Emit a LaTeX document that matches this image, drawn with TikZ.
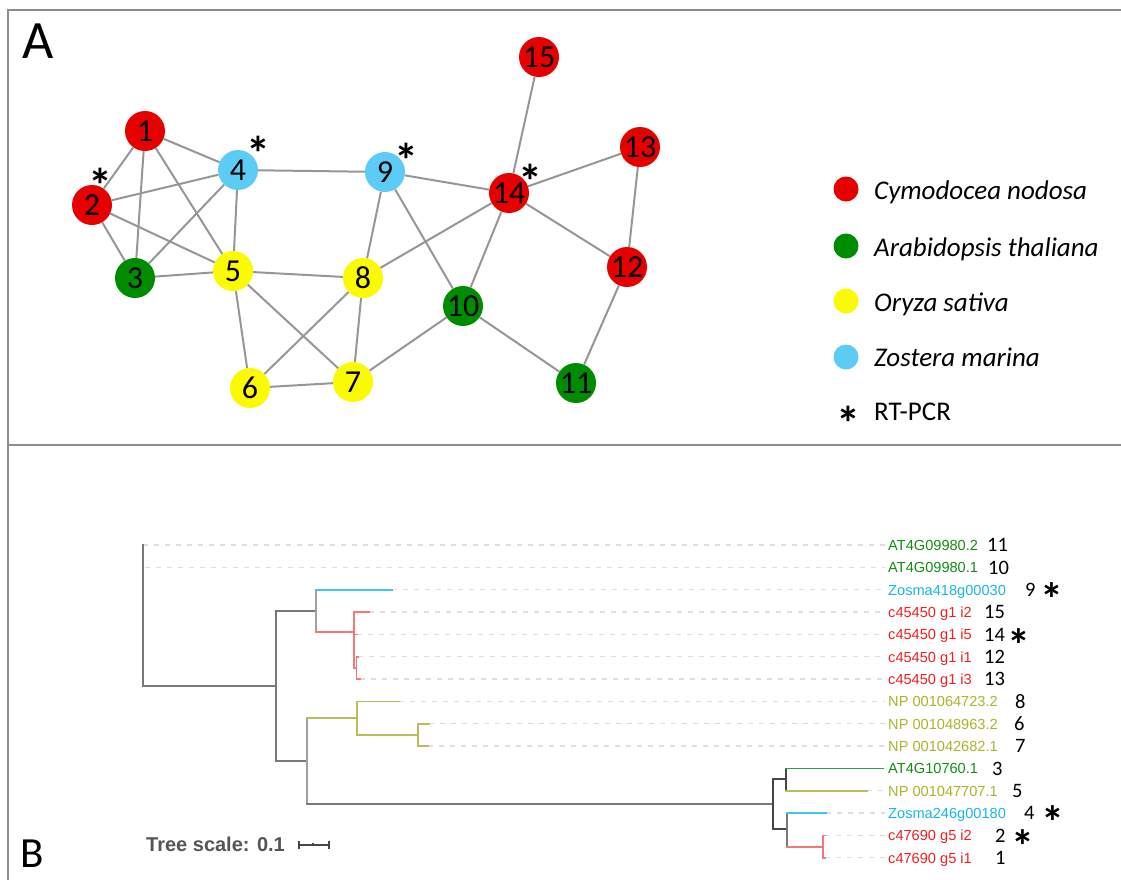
\documentclass[tikz,border=0pt]{standalone}
\usepackage{fontspec}
\setmainfont{Carlito}
\newfontfamily\labfont{Liberation Sans}

% node colours (network)
\definecolor{nred}{RGB}{230,0,0}
\definecolor{ngreen}{RGB}{0,140,0}
\definecolor{nyellow}{RGB}{250,250,0}
\definecolor{nblue}{RGB}{92,204,245}
\definecolor{edgegray}{RGB}{150,150,150}
\definecolor{framegray}{RGB}{140,140,140}
% label colours (tree)
\definecolor{lgreen}{RGB}{20,140,20}
\definecolor{lblue}{RGB}{25,180,230}
\definecolor{lred}{RGB}{240,30,30}
\definecolor{lolive}{RGB}{170,180,40}
% branch colours (tree)
\definecolor{bgreen}{RGB}{40,160,70}
\definecolor{bolive}{RGB}{185,190,90}
\definecolor{bblue}{RGB}{60,200,235}
\definecolor{bred}{RGB}{245,120,120}
\definecolor{bgray}{RGB}{120,120,120}
\definecolor{bdark}{RGB}{70,70,70}
\definecolor{leader}{RGB}{222,222,222}
\definecolor{scalegray}{RGB}{85,85,85}

\begin{document}
\begin{tikzpicture}[x=1pt,y=-1pt,
  vtx/.style={circle,minimum size=40pt,inner sep=0pt,font=\fontsize{32}{32}\selectfont},
  link/.style={draw=edgegray,line width=2pt},
  star/.style={inner sep=0pt,anchor=north,font=\fontsize{48}{48}\selectfont\bfseries},
  tstar/.style={inner sep=0pt,anchor=north,font=\fontsize{46}{46}\selectfont\bfseries},
  legdot/.style={circle,minimum size=25pt,inner sep=0pt},
  legtxt/.style={anchor=base west,inner sep=0pt,font=\fontsize{27}{27}\selectfont\itshape},
  leaf/.style={anchor=base west,inner sep=0pt,font=\labfont\fontsize{14.6}{14.6}\selectfont},
  num/.style={anchor=base west,inner sep=0pt,font=\fontsize{20.5}{20.5}\selectfont},
  br/.style={line width=1.6pt,line cap=rect},
  lead/.style={draw=leader,line width=1.1pt,dash pattern=on 5pt off 6pt},
  panel/.style={anchor=base west,inner sep=0pt}
]
\useasboundingbox (0,0) rectangle (1121,879);

% frame of the two panels
\draw[framegray,line width=2pt] (1130,10) -- (8,10) -- (8,890);
\draw[framegray,line width=2pt] (8,445) -- (1130,445);
\node[panel,font=\fontsize{54}{54}\selectfont] (labA) at (22,58) {A};
\node[panel,font=\fontsize{43}{43}\selectfont] (labB) at (20,867) {B};

% ---------------- network ----------------
\node[vtx,fill=nred]    (n1)  at (145,131) {1};
\node[vtx,fill=nred]    (n2)  at (92,205)  {2};
\node[vtx,fill=ngreen]  (n3)  at (135,278) {3};
\node[vtx,fill=nblue]   (n4)  at (238,170) {4};
\node[vtx,fill=nyellow] (n5)  at (233,271) {5};
\node[vtx,fill=nyellow] (n6)  at (250,388) {6};
\node[vtx,fill=nyellow] (n7)  at (353,382) {7};
\node[vtx,fill=nyellow] (n8)  at (363,278) {8};
\node[vtx,fill=nblue]   (n9)  at (385,172) {9};
\node[vtx,fill=ngreen]  (n10) at (463,306) {10};
\node[vtx,fill=ngreen]  (n11) at (576,383) {11};
\node[vtx,fill=nred]    (n12) at (627,267) {12};
\node[vtx,fill=nred]    (n13) at (640,147) {13};
\node[vtx,fill=nred]    (n14) at (509,193) {14};
\node[vtx,fill=nred]    (n15) at (539,57)  {15};

\foreach \a/\b in {n1/n2,n1/n3,n1/n4,n1/n5,n2/n4,n2/n3,n2/n5,n3/n4,n3/n5,
                   n4/n5,n4/n9,n5/n8,n5/n6,n5/n7,n6/n8,n6/n7,n7/n8,n7/n10,
                   n8/n9,n8/n14,n9/n14,n9/n10,n10/n14,n10/n11,n14/n15,
                   n14/n13,n14/n12,n13/n12,n12/n11}
  \path[link] (\a) -- (\b);

\node[star] (s2)  at (100,168) {*};
\node[star] (s4)  at (258,136) {*};
\node[star] (s9)  at (406,143) {*};
\node[star] (s14) at (530,164) {*};

% legend
\node[legdot,fill=nred]    (d1) at (846,189) {};
\node[legdot,fill=ngreen]  (d2) at (846,246) {};
\node[legdot,fill=nyellow] (d3) at (846,301) {};
\node[legdot,fill=nblue]   (d4) at (846,357) {};
\node[legtxt] (t1) at (874,199) {Cymodocea nodosa};
\node[legtxt] (t2) at (874,256) {Arabidopsis thaliana};
\node[legtxt] (t3) at (874,311) {Oryza sativa};
\node[legtxt] (t4) at (874,366) {Zostera marina};
\node[star] (d5) at (848,406) {*};
\node[legtxt,font=\fontsize{27}{27}\selectfont] (t5) at (874,420) {RT-PCR};

% ---------------- tree ----------------
\def\ra{545}\def\rb{567.3}\def\rc{589.7}\def\rd{612}\def\re{634.3}
\def\rf{656.7}\def\rg{679}\def\rh{701.3}\def\ri{723.7}\def\rj{746}
\def\rk{768.3}\def\rl{790.7}\def\rm{813}\def\rn{835.3}\def\ro{857.7}

% leaf labels
\node[leaf,text=lgreen] (L11) at (888,\ra+5.3) {AT4G09980.2};
\node[leaf,text=lgreen] (L10) at (888,\rb+5.3) {AT4G09980.1};
\node[leaf,text=lblue]  (L9)  at (888,\rc+5.3) {Zosma418g00030};
\node[leaf,text=lred]   (L15) at (888,\rd+5.3) {c45450 g1 i2};
\node[leaf,text=lred]   (L14) at (888,\re+5.3) {c45450 g1 i5};
\node[leaf,text=lred]   (L12) at (888,\rf+5.3) {c45450 g1 i1};
\node[leaf,text=lred]   (L13) at (888,\rg+5.3) {c45450 g1 i3};
\node[leaf,text=lolive] (L8)  at (888,\rh+5.3) {NP 001064723.2};
\node[leaf,text=lolive] (L6)  at (888,\ri+5.3) {NP 001048963.2};
\node[leaf,text=lolive] (L7)  at (888,\rj+5.3) {NP 001042682.1};
\node[leaf,text=lgreen] (L3)  at (888,\rk+5.3) {AT4G10760.1};
\node[leaf,text=lolive] (L5)  at (888,\rl+5.3) {NP 001047707.1};
\node[leaf,text=lblue]  (L4)  at (888,\rm+5.3) {Zosma246g00180};
\node[leaf,text=lred]   (L2)  at (888,\rn+5.3) {c47690 g5 i2};
\node[leaf,text=lred]   (L1)  at (888,\ro+5.3) {c47690 g5 i1};

% numbers and RT-PCR marks
\node[num] (m11) at (987,\ra+6.7) {11};
\node[num] (m10) at (988,\rb+6.7) {10};
\node[num] (m9)  at (1025,\rc+6.7) {9};
\node[num] (m15) at (984,\rd+6.7) {15};
\node[num] (m14) at (984,\re+6.7) {14};
\node[num] (m12) at (984,\rf+6.7) {12};
\node[num] (m13) at (984,\rg+6.7) {13};
\node[num] (m8)  at (1015,\rh+6.7) {8};
\node[num] (m6)  at (1014,\ri+6.7) {6};
\node[num] (m7)  at (1015,\rj+6.7) {7};
\node[num] (m3)  at (992,\rk+6.7) {3};
\node[num] (m5)  at (1012,\rl+6.7) {5};
\node[num] (m4)  at (1024,\rm+6.7) {4};
\node[num] (m2)  at (995,\rn+6.7) {2};
\node[num] (m1)  at (995,\ro+6.7) {1};
\node[tstar] (x9)  at (1052,\rc-7.5) {*};
\node[tstar] (x14) at (1019,\re-5.5) {*};
\node[tstar] (x4)  at (1053,\rm-7.5) {*};
\node[tstar] (x2)  at (1023,\rn-5.5) {*};

% leaf tips
\coordinate (p11) at (143,\ra);
\coordinate (p10) at (145,\rb);
\coordinate (p9)  at (392,\rc);
\coordinate (p15) at (369,\rd);
\coordinate (p14) at (357,\re);
\coordinate (p12) at (358,\rf);
\coordinate (p13) at (360,\rg);
\coordinate (p8)  at (399,\rh);
\coordinate (p6)  at (429,\ri);
\coordinate (p7)  at (428,\rj);
\coordinate (p3)  at (883,\rk);
\coordinate (p5)  at (867,\rl);
\coordinate (p4)  at (826,\rm);
\coordinate (p2)  at (825,\rn);
\coordinate (p1)  at (825,\ro);

% dashed leaders from tips to labels
\foreach \k in {11,10,9,15,14,12,13,8,6,7,5,4,2,1}
  \draw[lead,shorten >=3pt] (p\k) -- (p\k -| L\k.west);

% backbone
\draw[br,bgray] (143,\ra) -- (143,686) -- (276,686);
\draw[br,bgray] (276,611) -- (276,761);
\draw[br,bgray] (276,611) -- (316,611);
\draw[br,bgray] (276,761) -- (307,761);
% Zostera / Cymodocea clade
\draw[br,bgray!70] (316,\rc) -- (316,632);
\draw[br,bblue] (316,\rc) -- (p9);
\draw[br,bred] (316,632) -- (354,632);
\draw[br,bred] (354,\rd) -- (354,668);
\draw[br,bred] (354,\rd) -- (p15);
\draw[br,bred] (354,\re) -- (p14);
\draw[br,bred] (354,668) -- (356.5,668);
\draw[br,bred] (356.5,\rf) -- (356.5,\rg);
\draw[br,bred] (356.5,\rf) -- (p12);
\draw[br,bred] (356.5,\rg) -- (p13);
% Oryza clade
\draw[br,bgray!70] (307,718) -- (307,804);
\draw[br,bolive] (307,718) -- (357,718);
\draw[br,bolive] (357,\rh) -- (357,735);
\draw[br,bolive] (357,\rh) -- (p8);
\draw[br,bolive] (357,735) -- (418,735);
\draw[br,bolive] (418,\ri) -- (418,\rj);
\draw[br,bolive] (418,\ri) -- (p6);
\draw[br,bolive] (418,\rj) -- (p7);
% long branch and lower clade
\draw[br,bgray] (307,804) -- (773,804);
\draw[br,bdark] (773,779) -- (773,829);
\draw[br,bdark] (773,779) -- (786,779);
\draw[br,bdark] (786,\rk) -- (786,\rl);
\draw[br,bgreen] (786,\rk) -- (p3);
\draw[br,bolive] (786,\rl) -- (p5);
\draw[br,bdark] (773,829) -- (787,829);
\draw[br,bgray] (787,\rm) -- (787,847);
\draw[br,bblue] (787,\rm) -- (p4);
\draw[br,bred] (787,847) -- (823,847);
\draw[br,bred] (823,\rn) -- (823,\ro);
\draw[br,bred] (823,\rn) -- (p2);
\draw[br,bred] (823,\ro) -- (p1);

% scale
\node[anchor=base west,inner sep=0pt,text=scalegray,
      font=\labfont\bfseries\fontsize{20}{20}\selectfont] (sc) at (146,851.5) {Tree scale: 0.1};
\coordinate (sbL) at (299,845);
\coordinate (sbR) at (329,845);
\draw[bdark,line width=1.6pt] (sbL) -- (sbR);
\draw[bdark,line width=1.6pt] ([yshift=-4pt]sbL) -- ([yshift=4pt]sbL);
\draw[bdark,line width=1.6pt] ([yshift=-4pt]sbR) -- ([yshift=4pt]sbR);
\draw[bdark,line width=1.2pt] (313,845) -- (313,843);
\end{tikzpicture}
\end{document}
